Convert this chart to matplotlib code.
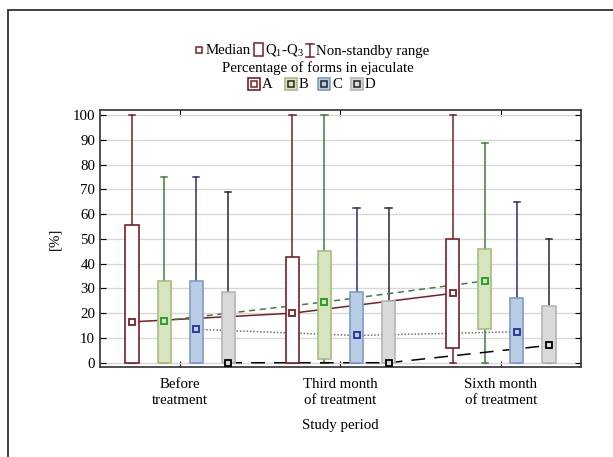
import matplotlib
matplotlib.use('Agg')
import matplotlib.pyplot as plt
from matplotlib.patches import Rectangle
from matplotlib.lines import Line2D

plt.rcParams['font.family'] = ['Liberation Serif', 'DejaVu Serif']
plt.rcParams['mathtext.fontset'] = 'custom'
plt.rcParams['mathtext.rm'] = 'Liberation Serif'

periods = ['Before\ntreatment', 'Third month\nof treatment', 'Sixth month\nof treatment']
forms = ['A', 'B', 'C', 'D']

medians = {'A': [16.5, 20, 28], 'B': [17, 24.5, 33], 'C': [13.5, 11, 12.5], 'D': [0, 0, 7]}
q1 = {'A': [0, 0, 6], 'B': [0, 1.5, 13.5], 'C': [0, 0, 0], 'D': [0, 0, 0]}
q3 = {'A': [55.5, 42.5, 50], 'B': [33, 45, 46], 'C': [33, 28.5, 26], 'D': [28.5, 25, 23]}
wlo = {'A': [0, 0, 0], 'B': [0, 0, 0], 'C': [0, 0, 0], 'D': [0, 0, 0]}
whi = {'A': [100, 100, 100], 'B': [75, 100, 88.5], 'C': [75, 62.5, 65], 'D': [69, 62.5, 50]}

offsets = {'A': -0.3, 'B': -0.1, 'C': 0.1, 'D': 0.3}
box_face = {'A': 'white', 'B': '#d7e4bd', 'C': '#b9cde5', 'D': '#d9d9d9'}
box_edge = {'A': '#7a1f24', 'B': '#a6bc80', 'C': '#7f9dc6', 'D': '#b5b5b5'}
whisk_col = {'A': '#7a1f24', 'B': '#3f7f3f', 'C': '#2d2d73', 'D': '#2a2a2a'}
mark_col = {'A': '#7a1f24', 'B': '#1f9a1f', 'C': '#2030a0', 'D': '#000000'}
line_col = {'A': '#7a1f24', 'B': '#3f7f3f', 'C': '#707080', 'D': '#000000'}
line_sty = {'A': '-', 'B': (0, (4, 3)), 'C': (0, (1, 1.2)), 'D': (0, (9, 6))}

W, H = 613, 457
fig = plt.figure(figsize=(W / 100, H / 100), dpi=100)
ax = fig.add_axes([100 / W, 1 - 366.7 / H, 481 / W, 256.7 / H])
FS = 10.7


def px(x, y):
    return x / W, 1 - y / H


xs = [1, 2, 3]
for f in forms:
    pos = [x + offsets[f] for x in xs]
    stats = []
    for i in range(3):
        stats.append(dict(med=medians[f][i], q1=q1[f][i], q3=q3[f][i],
                          whislo=wlo[f][i], whishi=whi[f][i], fliers=[]))
    ax.bxp(stats, positions=pos, widths=0.082, capwidths=0.04, patch_artist=True,
           showfliers=False, manage_ticks=False,
           boxprops=dict(facecolor=box_face[f], edgecolor=box_edge[f], linewidth=1.2, zorder=3),
           whiskerprops=dict(color=whisk_col[f], linewidth=1.1, zorder=2),
           capprops=dict(color=whisk_col[f], linewidth=1.1, zorder=2),
           medianprops=dict(linestyle='none'))
    ax.plot(pos, medians[f], color=line_col[f], linestyle=line_sty[f], linewidth=1.1, zorder=2.5)
    ax.plot(pos, medians[f], linestyle='none', marker='s', ms=4.6, mfc=box_face[f],
            mec=mark_col[f], mew=1.3, zorder=4)

ax.set_xlim(0.5, 3.5)
ax.set_ylim(-1.6, 102)
ax.set_yticks(range(0, 101, 10))
ax.set_xticks(xs)
ax.set_xticklabels(periods, fontsize=FS, linespacing=1.3)
ax.tick_params(axis='y', labelsize=FS, direction='in', left=True, right=True, length=4)
ax.tick_params(axis='x', direction='in', top=True, bottom=True, length=4, pad=8)
ax.grid(axis='y', color='#d8d8d8', linewidth=1, zorder=0)
ax.set_axisbelow(True)
for s in ax.spines.values():
    s.set_color('#303030')
    s.set_linewidth(1.2)
ax.set_ylabel('[%]', fontsize=FS, labelpad=8)
ax.set_xlabel('Study period', fontsize=FS, labelpad=9)

# outer frame (cropped on right and bottom)
fig.add_artist(Rectangle((8 / W, -1), 2, 1 - 10 / H + 1, transform=fig.transFigure, fill=False,
                         edgecolor='#303030', linewidth=1.3, clip_on=False))

# legend row 1
red = '#7a1f24'
fig.add_artist(Line2D([px(199, 0)[0]], [px(0, 50)[1]], marker='s', ms=4.5, mfc='white', mec=red,
                      mew=1.1, transform=fig.transFigure))
fig.text(*px(206, 51), 'Median', fontsize=FS, va='center', ha='left')
fig.add_artist(Rectangle(px(254, 56), 9 / W, 13 / H, transform=fig.transFigure, fill=False,
                         edgecolor=red, linewidth=1.1))
fig.text(*px(265, 51), r'Q$_\mathrm{1}$-Q$_\mathrm{3}$', fontsize=FS, va='center', ha='left')
wx = 310
fig.add_artist(Line2D([px(wx, 0)[0]] * 2, [px(0, 44)[1], px(0, 57)[1]], color=red, lw=1.1,
                      transform=fig.transFigure))
for yy in (44, 57):
    fig.add_artist(Line2D([px(wx - 4, 0)[0], px(wx + 4, 0)[0]], [px(0, yy)[1]] * 2, color=red,
                          lw=1.1, transform=fig.transFigure))
fig.text(*px(316, 51), 'Non-standby range', fontsize=FS, va='center', ha='left')

# legend row 2
fig.text(*px(318, 68), 'Percentage of forms in ejaculate', fontsize=FS, va='center', ha='center')

# legend row 3
lx = {'A': 248, 'B': 285, 'C': 318, 'D': 351}
for f in forms:
    x0 = lx[f]
    fig.add_artist(Rectangle(px(x0, 90), 12 / W, 12 / H, transform=fig.transFigure,
                             facecolor=box_face[f], edgecolor=red if f == 'A' else box_edge[f],
                             linewidth=1.2))
    fig.add_artist(Line2D([px(x0 + 6, 0)[0]], [px(0, 84)[1]], marker='s', ms=4, mfc=box_face[f],
                          mec=red if f == 'A' else '#222222', mew=1.1, transform=fig.transFigure))
    fig.text(*px(x0 + 14, 85), f, fontsize=FS, va='center', ha='left')

fig.savefig('out.png', dpi=100)
